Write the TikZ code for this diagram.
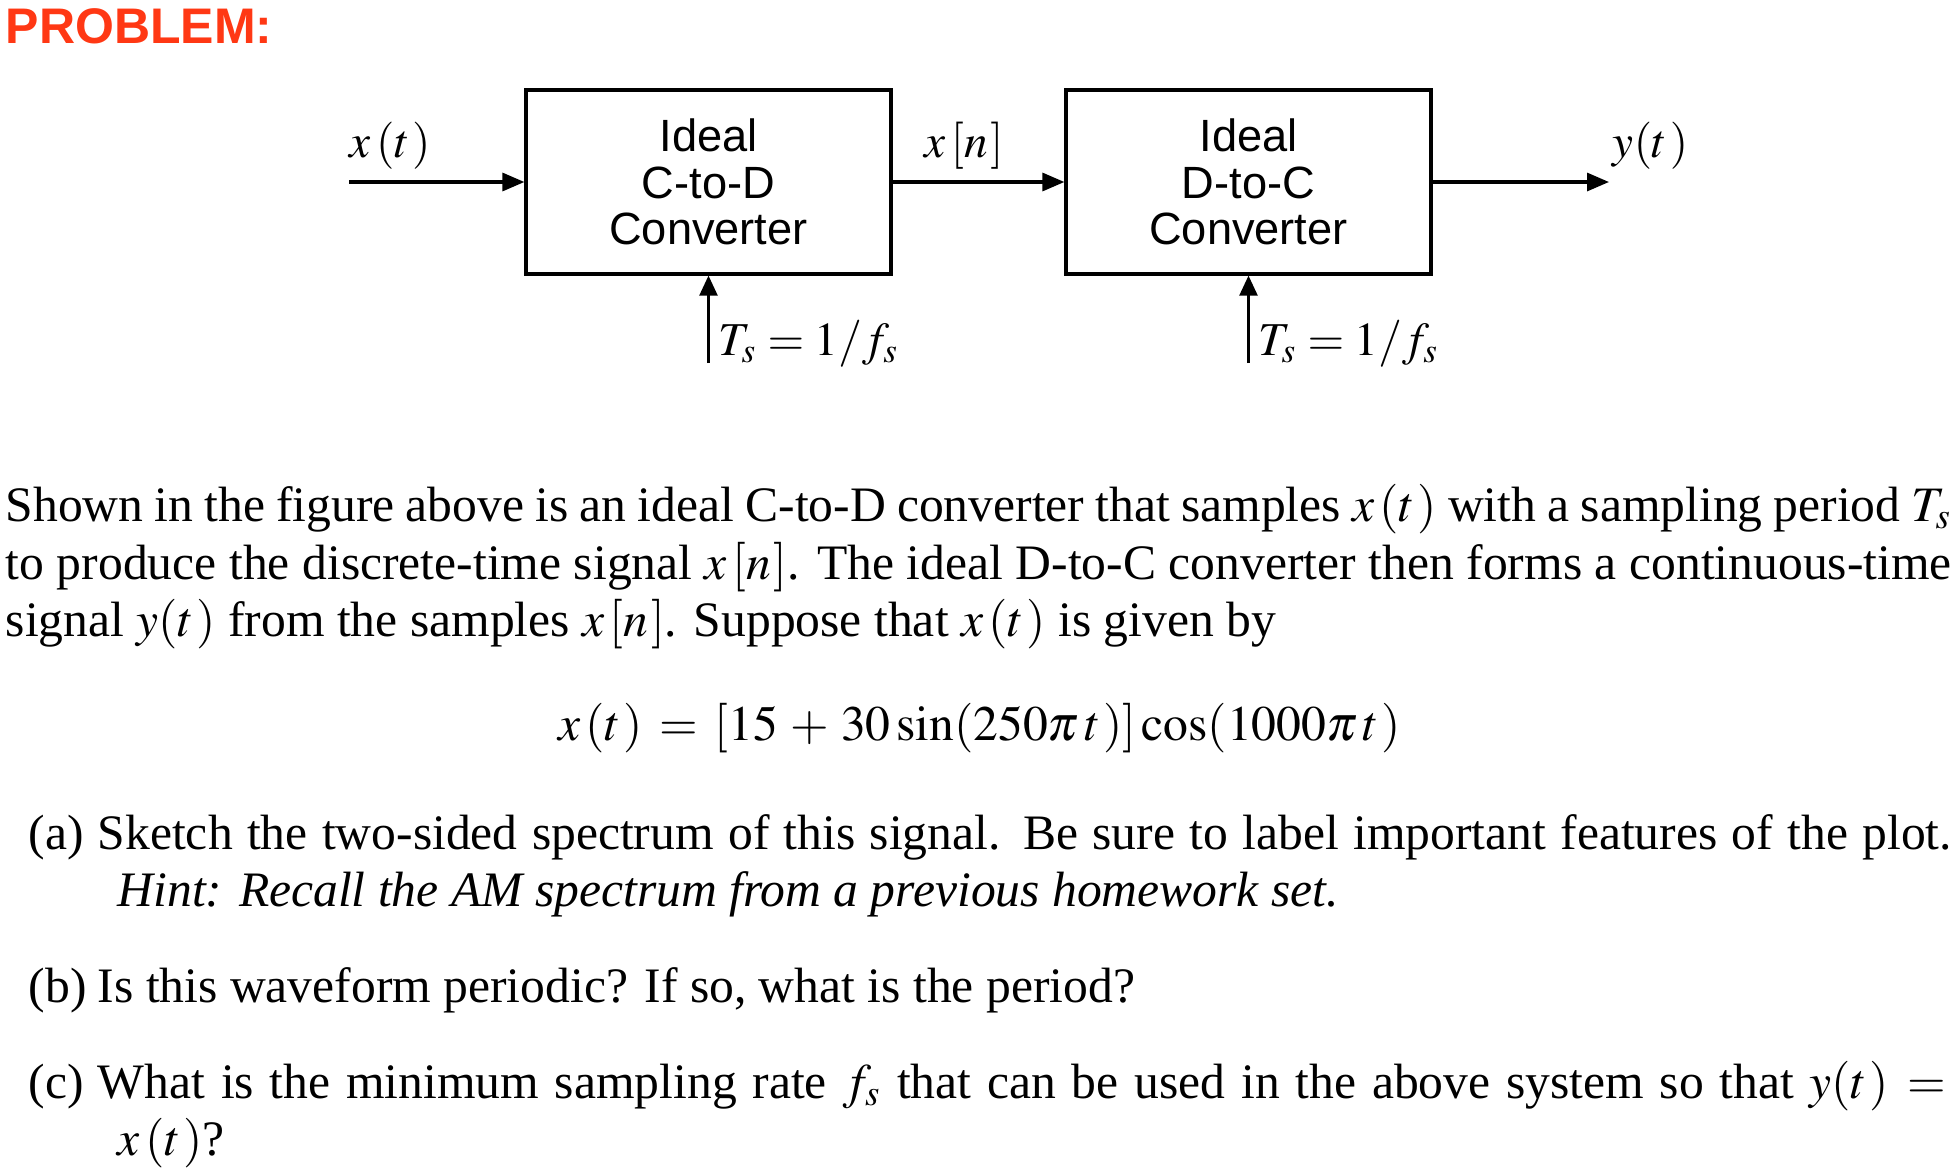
\documentclass[tikz,border=0pt]{standalone}
\usepackage{mathptmx}
\usepackage{fontspec}
\setmainfont{Liberation Serif}
\setsansfont{Liberation Sans}
\usetikzlibrary{arrows.meta}
\definecolor{probred}{RGB}{255,56,20}
\tikzset{
  convbox/.style={draw, line width=0.8pt, minimum width=91.25pt, minimum height=46pt,
    inner sep=0pt, align=center, font=\sffamily\fontsize{11.3}{11.7}\selectfont},
  sig/.style={line width=0.8pt, -{Triangle[length=5.5pt,width=4.5pt]}},
  clk/.style={line width=0.6pt, -{Triangle[length=5pt,width=4.5pt]}},
  txt/.style={anchor=base west, inner sep=0pt, font=\fontsize{12.4}{14.5}\selectfont},
  signame/.style={txt, font=\fontsize{11.8}{14}\selectfont},
}
\newcommand{\fullline}[2]{\makebox[#1][s]{#2}}
\newcommand{\gp}{\mkern2mu}
\newcommand{\sgp}{\mkern1mu}
\newcommand{\eq}{\mathrel{\,=\,}}
\begin{document}
\begin{tikzpicture}[x=0.25pt, y=-0.25pt]
  \useasboundingbox (0,0) rectangle (1959,1168);
  \node[txt, text=probred, font=\sffamily\bfseries\fontsize{12.5}{15}\selectfont] (title) at (5,43) {PROBLEM:};

  % block diagram
  \foreach \nm/\cx/\kind in {ctod/708.5/C-to-D, dtoc/1248.5/D-to-C} {
    \node[convbox] (\nm) at (\cx,182) {Ideal\\\kind\\Converter};
    \coordinate (\nm clk) at (\cx,363);
    \draw[clk] (\nm clk) -- (\nm);
    \node[signame] (\nm ts) at (\cx+9.5,355) {$T_s = 1/f_s$};
  }
  \coordinate (xin) at (349,182);
  \coordinate (yout) at (1609,182);
  \draw[sig] (xin) -- (ctod);
  \draw[sig] (ctod) -- (dtoc);
  \draw[sig] (dtoc) -- (yout);
  \node[signame] (xlab) at (349,157) {$x\gp(t\sgp)$};
  \node[signame, anchor=base] (xnlab) at (964,157) {$x\gp[n\sgp]$};
  \node[signame] (ylab) at (1612,157) {$y(t\sgp)$};

  % problem text
  \node[txt] (intro1) at (5,521) {\fullline{486.5pt}{Shown in the figure above is an ideal C-to-D converter that samples $x\gp(t\sgp)$ with a sampling period $T_s$}};
  \node[txt] (intro2) at (5,579) {\fullline{486.5pt}{to produce the discrete-time signal $x\gp[n\sgp]$. The ideal D-to-C converter then forms a continuous-time}};
  \node[txt] (intro3) at (5,636) {signal $y(t\sgp)$ from the samples $x\gp[n\sgp]$. Suppose that $x\gp(t\sgp)$ is given by};
  \node[txt, anchor=base] (eqn) at (979.5,740) {$x\gp(t\sgp) \eq [15 \,+\, 30\sin(250\pi\gp t\sgp)]\cos(1000\pi\gp t\sgp)$};

  \node[txt] (itema) at (28,849) {(a)};
  \node[txt] (parta) at (97,849) {\fullline{463.5pt}{Sketch the two-sided spectrum of this signal. Be sure to label important features of the plot.}};
  \node[txt] (hint) at (117,906) {\textit{Hint: Recall the AM spectrum from a previous homework set.}};
  \node[txt] (itemb) at (28,1002) {(b)};
  \node[txt] (partb) at (97,1002) {Is this waveform periodic? If so, what is the period?};
  \node[txt] (itemc) at (28,1098) {(c)};
  \node[txt] (partc) at (97,1098) {\fullline{463.5pt}{What is the minimum sampling rate $f_s$ that can be used in the above system so that $y(t\sgp) \eq$}};
  \node[txt] (partc2) at (117,1155) {$x\gp(t\sgp)$?};
\end{tikzpicture}
\end{document}
